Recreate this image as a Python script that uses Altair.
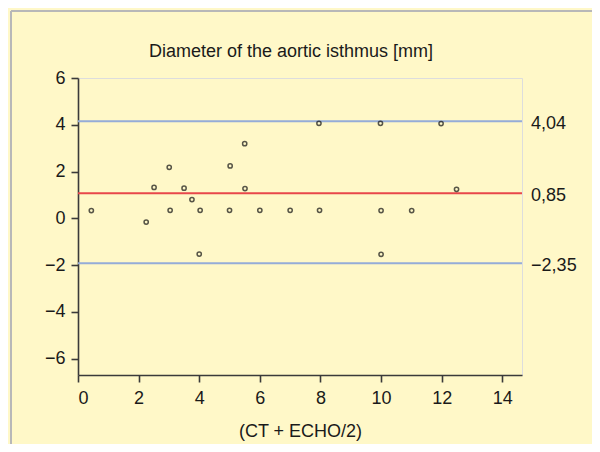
import altair as alt
import pandas as pd

# Scatter data (x = mean (CT + ECHO)/2, y = difference)
x_vals = [0.44, 2.25, 2.51, 3.01, 3.04, 3.50, 3.76, 4.03, 4.00, 5.02, 5.00, 5.50, 5.51,
          6.00, 7.00, 7.95, 7.97, 9.98, 10.00, 10.00, 11.01, 11.98, 12.49]
y_vals = [0.33, -0.16, 1.32, 2.18, 0.34, 1.29, 0.80, 0.34, -1.53, 2.24, 0.34, 3.19, 1.27,
          0.34, 0.34, 4.06, 0.34, 4.06, 0.33, -1.54, 0.33, 4.05, 1.24]

# Reference lines (drawn positions) and their labels
line_vals = [4.15, 1.07, -1.92]
line_labels = ["4,04", "0,85", "\u22122,35"]
line_kind = ["limit", "mean", "limit"]

x_ticks = [0, 2, 4, 6, 8, 10, 12, 14]
y_ticks = [-6, -4, -2, 0, 2, 4, 6]

title_text = ["Diameter of the aortic isthmus [mm]"]

pts = pd.DataFrame({"x": x_vals, "y": y_vals})
lines = pd.DataFrame({"y": line_vals, "label": line_labels, "kind": line_kind,
                      "x0": [0] * 3, "x1": [14.65] * 3, "xl": [14.95] * 3})

FONT = "Liberation Sans, Arial, sans-serif"
INK = "#1a1a1a"
xs = alt.Scale(domain=[0, 14.65], nice=False, zero=False)
ys = alt.Scale(domain=[-6.7, 6], nice=False, zero=False)

one = pd.DataFrame({"a": [0]})
border_top = alt.Chart(one).mark_rule(color="#B8B8B8", strokeWidth=2).encode(
    x=alt.value(-67), x2=alt.value(600), y=alt.value(-67)
)
border_left = alt.Chart(one).mark_rule(color="#B8B8B8", strokeWidth=2).encode(
    x=alt.value(-67), y=alt.value(-67), y2=alt.value(500)
)

title = alt.Chart(pd.DataFrame({"t": title_text})).mark_text(
    align="center", baseline="alphabetic", fontSize=18, font=FONT, color=INK
).encode(
    x=alt.value(213), y=alt.value(-21), text="t:N"
)

rules = alt.Chart(lines).mark_rule(strokeWidth=2).encode(
    x=alt.X("x0:Q", scale=xs,
            axis=alt.Axis(values=x_ticks, title="(CT + ECHO/2)", grid=False,
                          labelPadding=7, titlePadding=15)),
    x2="x1:Q",
    y=alt.Y("y:Q", scale=ys,
            axis=alt.Axis(values=y_ticks, title=None, grid=False, labelPadding=6)),
    color=alt.Color("kind:N", scale=alt.Scale(domain=["limit", "mean"],
                                              range=["#95ACD8", "#E8474A"]),
                    legend=None),
)

labels = alt.Chart(lines).mark_text(
    align="left", baseline="middle", fontSize=18, font=FONT, color=INK, dy=3
).encode(
    x=alt.X("xl:Q", scale=xs),
    y=alt.Y("y:Q", scale=ys),
    text="label:N",
)

points = alt.Chart(pts).mark_point(
    filled=False, size=18, strokeWidth=1.5, color="#111111", shape="circle"
).encode(
    x=alt.X("x:Q", scale=xs),
    y=alt.Y("y:Q", scale=ys),
)

chart = alt.layer(border_top, border_left, title, rules, points, labels).properties(
    width=444, height=297,
    autosize=alt.AutoSizeParams(type="none"),
    padding={"left": 70, "top": 70, "right": 70, "bottom": 69},
).configure_view(
    stroke=None
).configure(
    background="#FFF8C8"
).configure_axis(
    domainColor="#3a3a3a", domainWidth=1.6, tickColor="#3a3a3a", tickWidth=1.6,
    tickSize=7, labelFont=FONT, labelFontSize=18, labelColor=INK,
    titleFont=FONT, titleFontSize=18, titleFontWeight="normal", titleColor=INK,
)

chart.save("out.html", embed_options={"renderer": "svg", "actions": False})
